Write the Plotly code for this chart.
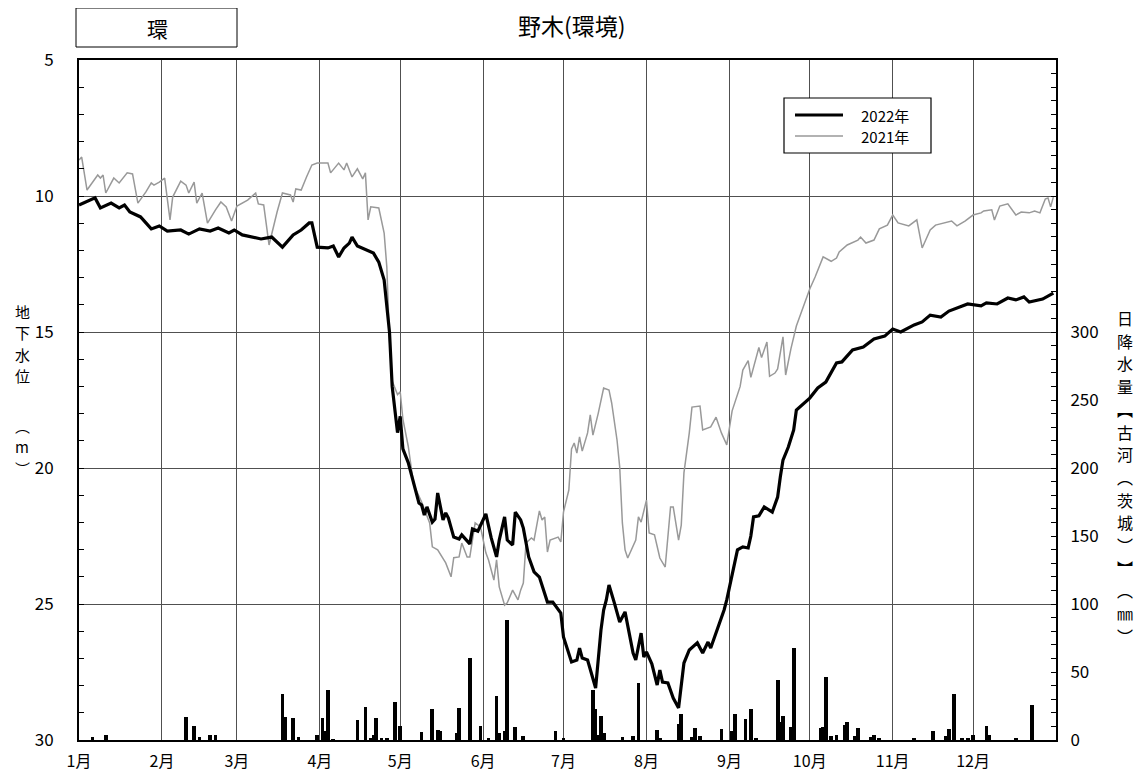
import plotly.graph_objects as go
import pandas as pd

# ---------------- data ----------------
month_labels = ['1月', '2月', '3月', '4月', '5月', '6月', '7月', '8月', '9月', '10月', '11月', '12月']
month_start_day = list(pd.date_range('2022-01-01', periods=12, freq='MS').dayofyear - 1)

gw2022_day = [0, 4, 6, 8, 12, 15, 17, 19, 23, 27, 30, 33, 38, 41, 45, 49, 52, 56, 58, 61, 65, 68, 72, 76, 80,
              83, 86, 87, 89, 93, 95, 97, 99, 101, 102, 104, 110, 112, 114, 115, 116, 117, 118, 119, 120, 121,
              123, 125, 127, 128, 129, 130, 132, 133, 134, 136, 137, 138, 140, 142, 143, 146, 147, 149, 152,
              154, 156, 157, 159, 160, 162, 163, 165, 166, 168, 170, 172, 175, 177, 180, 181, 184, 186, 187,
              188, 190, 192, 193, 195, 196, 197, 198, 200, 202, 204, 207, 208, 210, 211, 212, 214, 216, 217,
              218, 220, 222, 224, 226, 228, 231, 233, 235, 236, 238, 239, 241, 242, 244, 246, 248, 250, 251,
              252, 254, 256, 259, 261, 262, 263, 265, 267, 268, 273, 276, 279, 283, 285, 289, 293, 297, 301,
              304, 307, 312, 315, 318, 322, 325, 328, 332, 337, 339, 343, 347, 350, 353, 355, 360, 364]
gw2022_m = [10.33, 10.15, 10.07, 10.44, 10.26, 10.44, 10.33, 10.59, 10.77, 11.21, 11.10, 11.29, 11.25, 11.40,
            11.21, 11.29, 11.18, 11.36, 11.25, 11.43, 11.51, 11.58, 11.51, 11.88, 11.43, 11.25, 10.99, 10.99,
            11.88, 11.91, 11.84, 12.24, 11.91, 11.73, 11.51, 11.84, 12.10, 12.43, 13.09, 14.08, 15.0, 17.0,
            17.9, 18.7, 18.1, 19.3, 19.8, 20.55, 21.29, 21.36, 21.73, 21.43, 21.99, 21.88, 20.92, 21.91, 21.65,
            21.84, 22.54, 22.61, 22.46, 22.79, 22.24, 22.32, 21.69, 22.57, 23.27, 22.65, 21.80, 22.65, 22.83,
            21.62, 21.91, 22.21, 23.27, 23.82, 24.01, 24.93, 24.93, 25.33, 26.21, 27.13, 27.06, 26.62, 26.99,
            27.06, 27.79, 28.09, 25.96, 25.22, 24.85, 24.30, 24.96, 25.66, 25.29, 26.80, 27.06, 26.07, 26.95,
            26.76, 27.20, 27.98, 27.43, 27.87, 27.90, 28.46, 28.82, 27.17, 26.69, 26.43, 26.80, 26.40, 26.62,
            26.07, 25.77, 25.22, 24.85, 23.86, 23.01, 22.90, 22.94, 22.50, 21.80, 21.76, 21.43, 21.62, 21.07,
            20.33, 19.71, 19.23, 18.60, 17.87, 17.43, 17.06, 16.84, 16.14, 16.10, 15.66, 15.55, 15.26, 15.15,
            14.89, 15.00, 14.74, 14.63, 14.38, 14.45, 14.23, 14.12, 13.97, 14.04, 13.93, 13.97, 13.75, 13.82,
            13.71, 13.90, 13.79, 13.57]

gw2021_day = [0, 1, 3, 7, 8, 9, 10, 13, 15, 18, 20, 22, 25, 27, 28, 30, 32, 34, 35, 38, 40, 41, 43, 44, 46, 48,
              51, 53, 55, 57, 59, 63, 66, 67, 69, 71, 74, 76, 79, 80, 81, 83, 85, 87, 89, 93, 94, 97, 99, 100,
              102, 104, 106, 107, 108, 109, 112, 114, 115, 116, 117, 119, 120, 121, 123, 125, 128, 131, 132, 134,
              137, 139, 140, 142, 143, 145, 146, 148, 150, 152, 153, 155, 156, 157, 159, 160, 162, 164, 165, 166,
              167, 169, 170, 172, 173, 174, 175, 176, 179, 180, 181, 183, 184, 185, 186, 187, 188, 190, 191, 192,
              194, 196, 198, 199, 201, 202, 203, 204, 205, 208, 209, 210, 212, 213, 215, 217, 219, 221, 222, 224,
              225, 226, 228, 229, 232, 233, 236, 238, 240, 242, 244, 247, 248, 250, 251, 254, 255, 257, 258, 260,
              261, 263, 264, 266, 268, 271, 273, 275, 278, 281, 283, 284, 287, 291, 292, 294, 297, 299, 302, 304,
              306, 310, 313, 315, 318, 320, 323, 326, 328, 331, 334, 337, 338, 341, 342, 344, 347, 350, 352, 355,
              357, 359, 361, 362, 363, 364]
gw2021_m = [8.68, 8.57, 9.78, 9.23, 9.34, 9.23, 9.89, 9.34, 9.52, 9.15, 9.19, 10.26, 9.85, 9.52, 9.60, 9.49, 9.34,
            10.88, 10.04, 9.45, 9.60, 9.89, 9.49, 10.26, 9.89, 11.00, 10.51, 10.22, 10.40, 10.92, 10.37, 10.15,
            9.89, 10.29, 10.33, 11.80, 10.59, 9.89, 9.96, 10.22, 9.74, 9.78, 9.30, 8.86, 8.79, 8.79, 9.15, 8.79,
            9.04, 8.79, 9.30, 9.00, 9.37, 9.15, 10.88, 10.40, 10.44, 11.36, 12.61, 15.3, 16.8, 17.3, 17.2, 18.2,
            19.2, 20.6, 21.25, 22.02, 22.9, 23.01, 23.49, 24.0, 23.3, 23.27, 22.76, 23.27, 23.27, 22.02, 22.17,
            23.12, 23.38, 24.12, 23.38, 24.37, 25.04, 24.96, 24.49, 24.85, 24.49, 24.23, 22.76, 22.57, 22.65,
            21.58, 21.91, 21.80, 23.09, 22.65, 22.54, 22.72, 21.62, 20.81, 19.3, 19.08, 19.45, 18.86, 19.38,
            18.71, 18.05, 18.79, 17.98, 17.06, 17.13, 17.61, 18.97, 19.96, 22.02, 23.01, 23.31, 22.65, 21.80,
            21.99, 21.18, 22.39, 22.46, 23.31, 23.64, 21.43, 21.43, 22.65, 22.10, 20.18, 18.71, 17.76, 17.72,
            18.60, 18.49, 18.13, 18.71, 19.15, 17.90, 17.00, 16.40, 16.05, 16.67, 15.57, 15.94, 15.37, 16.63,
            16.51, 16.36, 15.18, 16.58, 15.60, 14.78, 13.99, 13.42, 12.98, 12.24, 12.40, 12.28, 12.06, 11.80,
            11.62, 11.51, 11.73, 11.62, 11.21, 11.07, 10.70, 10.99, 11.10, 10.88, 11.91, 11.25, 11.07, 10.99,
            10.92, 11.10, 10.92, 10.70, 10.62, 10.55, 10.51, 10.88, 10.37, 10.29, 10.70, 10.59, 10.62, 10.55,
            10.62, 10.11, 10.07, 10.40, 10.04]

rain_day = [5, 10, 40, 43, 45, 49, 51, 76, 77, 80, 82, 89, 91, 92, 93, 95, 104, 107, 109, 110, 111, 113, 115,
            118, 120, 128, 132, 134, 135, 141, 142, 146, 150, 153, 156, 157, 159, 160, 163, 166, 178, 181, 192,
            193, 194, 195, 196, 203, 207, 209, 216, 217, 224, 225, 229, 230, 232, 240, 244, 245, 249, 251, 253,
            261, 262, 263, 266, 267, 277, 278, 279, 281, 283, 286, 287, 290, 291, 296, 297, 299, 312, 319, 324,
            325, 327, 330, 332, 334, 339, 340, 350, 356]
rain_mm = [2.4, 4, 17, 10.5, 2.5, 4, 3.5, 34, 17, 16.5, 2.4, 3.9, 16, 6.6, 37, 0.7, 15, 24.5, 1.5, 4, 16, 1.7,
           1.7, 28, 10.5, 6.1, 22.5, 7.5, 6.5, 5.3, 23.5, 60, 10.5, 1.7, 32, 5, 6.6, 88, 9.8, 3, 6.6, 1, 36.7,
           23, 4, 18, 5, 2.5, 3, 42, 7.3, 1, 11.8, 19, 2.5, 8.6, 3.2, 7.8, 6.6, 19, 15.4, 23, 1, 44, 13.5, 18,
           9.8, 67.8, 8.6, 9.3, 46, 3.2, 3.9, 11.3, 13.6, 2.7, 8.8, 2.5, 3.9, 1, 1, 6.6, 3.2, 7.8, 34, 1, 1,
           3.5, 10.5, 3.5, 0.8, 25.5]

gw_ticks = [5, 10, 15, 20, 25, 30]
rain_ticks = [0, 50, 100, 150, 200, 250, 300]

title_text = '野木(環境)'
tag_text = '環'
left_label_a = ['地', '下', '水', '位']
left_label_b = ['︵', 'm', '︶']
right_label = ['日', '降', '水', '量', '︻', '古', '河', '︵', '茨', '城', '︶', '︼', '︵', '㎜', '︶']
legend_names = ['2022年', '2021年']

# ---------------- figure ----------------
# screen coordinates of the plot area (page has an 8px body margin)
OFF = 8
SW, SH = 1147, 780
L, R, T, B = 79, 1056, 60, 740
W, H = SW - 2 * OFF, SH - 2 * OFF
FONT = 'Noto Sans CJK JP'


def px(x):
    return (x - L) / (R - L)


def py(y):
    return (B - y) / (B - T)


fig = go.Figure()
fig.add_trace(go.Bar(x=rain_day, y=rain_mm, yaxis='y2', width=1.4,
                     marker=dict(color='black', line=dict(width=0)), showlegend=False))
fig.add_trace(go.Scatter(x=gw2021_day, y=gw2021_m, mode='lines', name=legend_names[1],
                         line=dict(color='#999999', width=1.5), showlegend=False))
fig.add_trace(go.Scatter(x=gw2022_day, y=gw2022_m, mode='lines', name=legend_names[0],
                         line=dict(color='black', width=3.2), showlegend=False))

grid_col = '#505050'
fig.update_layout(
    width=W, height=H,
    margin=dict(l=L - OFF, r=W - (R - OFF), t=T - OFF, b=H - (B - OFF), autoexpand=False),
    paper_bgcolor='white', plot_bgcolor='white',
    font=dict(family=FONT, size=17, color='black'),
    bargap=0,
    xaxis=dict(range=[0, 365], tickvals=month_start_day, ticktext=month_labels, ticks='',
               showgrid=True, gridcolor=grid_col, gridwidth=1.2, zeroline=False,
               showline=True, linecolor='black', linewidth=2, mirror=True,
               tickfont=dict(size=16), ticklabelstandoff=6),
    yaxis=dict(range=[30, 5], tickvals=gw_ticks, ticks='inside', ticklen=5, tickcolor='black',
               showgrid=True, gridcolor=grid_col, gridwidth=1.2, zeroline=False,
               showline=True, linecolor='black', linewidth=2, mirror=False,
               minor=dict(tickmode='linear', tick0=5, dtick=1, ticks='inside', ticklen=5,
                          tickcolor='black', showgrid=False),
               tickfont=dict(size=17), ticklabelstandoff=20),
    yaxis2=dict(range=[0, 500], overlaying='y', side='right', tickvals=rain_ticks, ticks='inside',
                ticklen=5, tickcolor='black', showgrid=False, zeroline=False,
                showline=True, linecolor='black', linewidth=2,
                minor=dict(tickmode='linear', tick0=0, dtick=10, ticks='inside', ticklen=5,
                           tickcolor='black', showgrid=False),
                tickfont=dict(size=17), ticklabelstandoff=9),
)

shapes = []
annotations = []


def note(text, x, y, size, xanchor='center'):
    annotations.append(dict(text=text, xref='paper', yref='paper', x=px(x), y=py(y), showarrow=False,
                            font=dict(size=size), xanchor=xanchor, yanchor='middle'))


# tag box
shapes.append(dict(type='rect', xref='paper', yref='paper', x0=px(76), x1=px(237), y0=py(47), y1=py(8),
                   line=dict(color='black', width=1), fillcolor='white'))
note(tag_text, 157, 28, 21)
# title
note(title_text, 572, 25, 23)
# legend (box, line samples, labels)
shapes.append(dict(type='rect', xref='paper', yref='paper', x0=px(784), x1=px(931), y0=py(153), y1=py(98),
                   line=dict(color='black', width=1.2), fillcolor='white'))
leg_y = [115, 136]
leg_style = [dict(color='black', width=3), dict(color='#999999', width=1.5)]
for name, yy, st in zip(legend_names, leg_y, leg_style):
    shapes.append(dict(type='line', xref='paper', yref='paper', x0=px(795), x1=px(843), y0=py(yy), y1=py(yy),
                       line=st))
    note(name, 859, yy, 15, xanchor='left')
# left axis title (vertical, one char per annotation)
for i, ch in enumerate(left_label_a):
    note(ch, 22, 311 + 21.5 * i, 15)
for i, ch in enumerate(left_label_b):
    note(ch, 22, 425 + 21.5 * i, 15)
# right axis title
for i, ch in enumerate(right_label):
    note(ch, 1125, 318 + 22.7 * i, 16)

fig.update_layout(shapes=shapes, annotations=annotations)
fig.write_html('out.html')
